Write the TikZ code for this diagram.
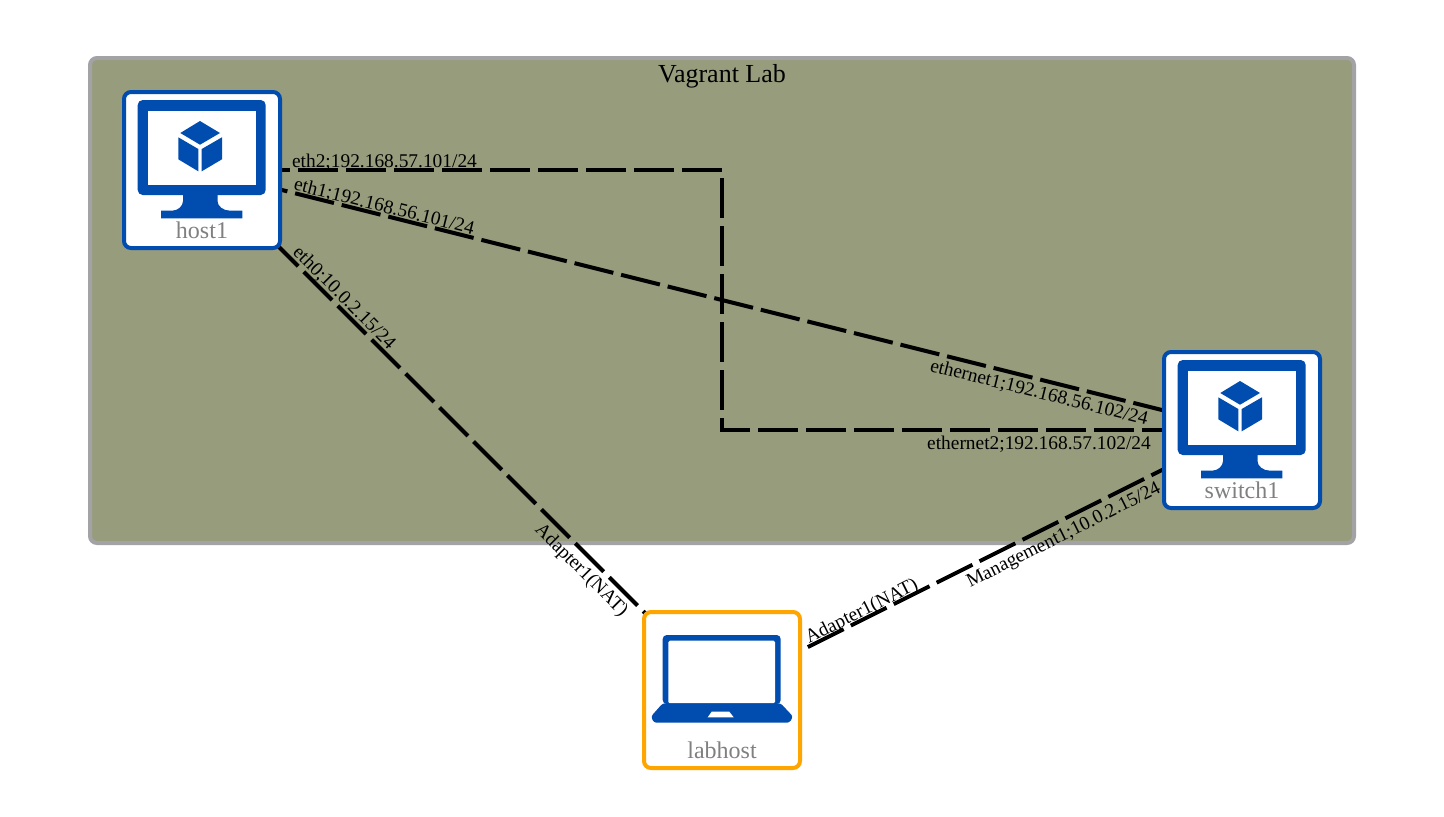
\documentclass[tikz,border=0pt]{standalone}
\usepackage{fontspec}
\setmainfont{Liberation Serif}
\pgfdeclarelayer{backlayer}
\pgfdeclarelayer{edgelayer}
\pgfsetlayers{backlayer,edgelayer,main}
\definecolor{iconblue}{HTML}{004CAF}
\definecolor{groupfill}{HTML}{979C7C}
\definecolor{groupline}{HTML}{A3A3A6}
\definecolor{labhostline}{HTML}{FFA500}
\definecolor{namegray}{HTML}{808080}
\tikzset{
  devbox/.style={draw=iconblue,fill=white,line width=4pt,rounded corners=7pt,
    minimum width=156pt,minimum height=156pt,inner sep=0pt,outer sep=0pt},
  groupbox/.style={draw=groupline,fill=groupfill,line width=4pt,rounded corners=7pt,
    minimum width=1264pt,minimum height=485pt,inner sep=0pt},
  netlink/.style={draw=black,line width=4pt,dash pattern=on 40pt off 8pt},
  linktext/.style={font=\fontsize{19.4pt}{22pt}\selectfont,text=black,inner sep=0pt},
  devname/.style={font=\fontsize{24pt}{26pt}\selectfont,text=namegray,inner sep=0pt},
  grouptitle/.style={font=\fontsize{26pt}{28pt}\selectfont,text=black,inner sep=0pt},
  iconfill/.style={fill=iconblue,draw=none},
}
\newcommand{\monitorglyph}[2]{%
  \begin{scope}[shift={(#1,#2)}]
    \fill[iconblue,rounded corners=5pt] (-64.3,-70) rectangle (63.7,25);
    \fill[white] (-53.7,-59.3) rectangle (53.7,15);
    \path[iconfill] (-19,24) -- (-19,31) .. controls (-19,36) and (-24,40.7) .. (-30,40.7)
      -- (-41,40.7) -- (-41,48.3) -- (40.3,48.3) -- (40.3,40.7) -- (28,40.7)
      .. controls (21,40.7) and (15.5,36) .. (15.5,31) -- (15.5,24) -- cycle;
    \path[iconfill] (-2,-49) -- (18,-37) -- (-2,-25.3) -- (-21.7,-37) -- cycle;
    \path[iconfill] (-23.7,-32.7) -- (-3.7,-21) -- (-3.7,1.3) -- (-23.7,-10.7) -- cycle;
    \path[iconfill] (-0.3,-21) -- (20,-32.7) -- (20,-10.7) -- (-0.3,1.3) -- cycle;
  \end{scope}}
\begin{document}
\begin{tikzpicture}[x=1pt,y=-1pt]
\useasboundingbox (0,0) rectangle (1444,817);
\begin{pgfonlayer}{backlayer}
  \fill[white] (0,0) rectangle (1444,817);
  \node[groupbox] (lab) at (722,300.5) {};
\end{pgfonlayer}
\node[grouptitle] (labtitle) at (722,76) {Vagrant Lab};

\node[devbox] (host1) at (202,170) {};
\node[devbox] (switch1) at (1242,430) {};
\node[devbox,draw=labhostline] (labhost) at (722,690) {};

\coordinate (bendA) at (722,170);
\coordinate (bendB) at (722,430);
\begin{pgfonlayer}{edgelayer}
  \draw[netlink] (host1.center) -- (bendA) -- (bendB) -- (switch1.center);
  \draw[netlink] (host1.center) -- (switch1.center);
  \draw[netlink] (host1.center) -- (labhost.center);
  \draw[netlink] (labhost.center) -- (switch1.center);
\end{pgfonlayer}

\monitorglyph{202}{170}
\monitorglyph{1242}{430}
\node[devname] (host1name) at (202,230.5) {host1};
\node[devname] (switch1name) at (1242,490.5) {switch1};

% laptop
\fill[iconblue,rounded corners=4pt] (662.7,704) -- (662.7,635) -- (780.7,635) -- (780.7,704) -- cycle;
\fill[white,rounded corners=1.5pt] (668.3,703.3) -- (668.3,640.7) -- (775,640.7) -- (775,703.3) -- cycle;
\path[iconfill,rounded corners=2.5pt] (662.7,703.3) -- (651,716.5) -- (654,722.7) -- (789.5,722.7) -- (793,716.5) -- (780.7,703.3) -- cycle;
\fill[white] (711.7,711.7) -- (729.3,711.7) -- (733.7,717.3) -- (707.7,717.3) -- cycle;
\node[devname] (labhostname) at (722,750.5) {labhost};

\node[linktext] (t1) at (384.5,162) {eth2;192.168.57.101/24};
\node[linktext,rotate=-14] (t2) at (384,207) {eth1;192.168.56.101/24};
\node[linktext,rotate=-45] (t3) at (344,298) {eth0;10.0.2.15/24};
\node[linktext,rotate=-45] (t4) at (581,570.5) {Adapter1(NAT)};
\node[linktext,rotate=26.57] (t5) at (862,612) {Adapter1(NAT)};
\node[linktext,rotate=26.57] (t6) at (1064,536) {Management1;10.0.2.15/24};
\node[linktext,rotate=-14] (t7) at (1039,393) {ethernet1;192.168.56.102/24};
\node[linktext] (t8) at (1039,444) {ethernet2;192.168.57.102/24};
\end{tikzpicture}
\end{document}
